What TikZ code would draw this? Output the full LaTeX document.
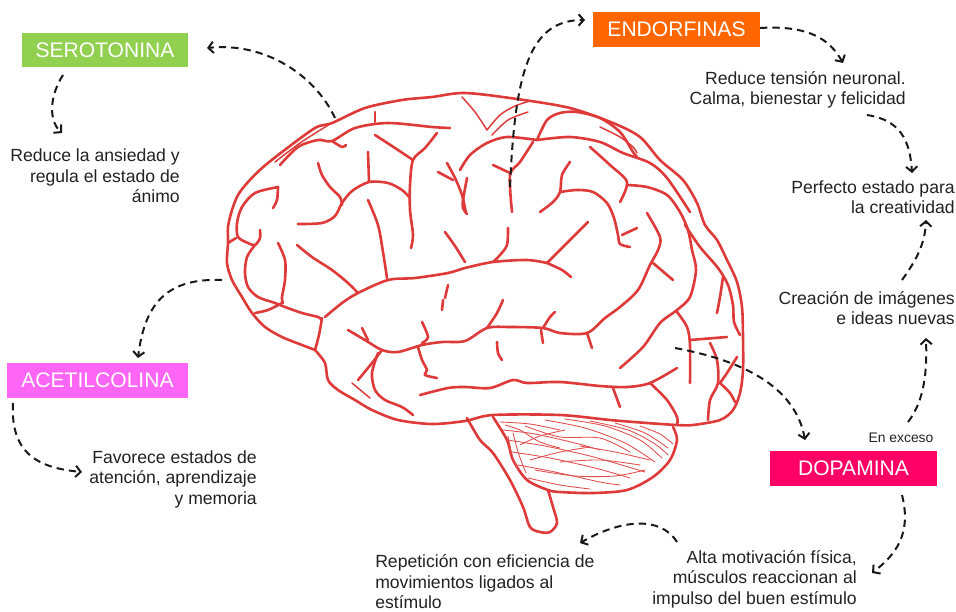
\documentclass[tikz,border=0pt]{standalone}
\usepackage{fontspec}
\setmainfont{Liberation Sans}
\usetikzlibrary{arrows.meta}
\definecolor{brainred}{HTML}{DE3A3A}
\definecolor{serogreen}{HTML}{92D050}
\definecolor{endoorange}{HTML}{FF6600}
\definecolor{acetpink}{HTML}{FF66F5}
\definecolor{dopared}{HTML}{FF0066}
\definecolor{txt}{HTML}{222222}
\begin{document}
\begin{tikzpicture}[x=0.75pt,y=-0.75pt,
  br/.style={draw=brainred,line width=1.95pt,line cap=round,line join=round},
  thin/.style={draw=brainred,line width=1.1pt,line cap=round},
  hatch/.style={draw=brainred!90,line width=0.65pt,line cap=round},
  lab/.style={fill=#1,text=white,minimum height=26pt,inner sep=0pt,font=\fontsize{15.8}{18}\selectfont},
  desc/.style={text=txt,inner sep=0pt,font=\fontsize{13.2}{15.4}\selectfont},
  arr/.style={draw=black!90,line width=1.5pt,dash pattern=on 5.5pt off 3.8pt,
    -{Straight Barb[length=3.8pt,width=8.5pt,line width=1.5pt]}},
]
\useasboundingbox (0,0) rectangle (956,611);

% ---------- brain: cerebrum outline ----------
\draw[br] plot[smooth] coordinates {(315,350) (302,345) (282,337) (265,327) (252,313) (242,297) (232,280) (227,263) (228,243) (228,227) (232,210) (238,195) (248,182) (262,168) (282,152) (315,128) (332,123) (365,108) (402,100) (432,97) (465,93) (517,99) (570,108) (613,123) (640,137) (660,160) (683,180) (697,203) (705,225) (717,240) (727,260) (737,282) (742,307) (743,337) (743,370) (740,393) (733,410) (720,420) (693,425) (677,425) (647,423) (610,420) (560,415) (493,415) (465,421) (432,424) (398,420) (372,410) (355,400) (338,390) (328,380) (325,363) (315,350)};

% frontal lobe folds
\draw[thin] plot[smooth] coordinates {(275,162) (300,143) (330,124)};
\draw[br] plot[smooth] coordinates {(278,187) (255,193) (242,207) (237,223) (238,237) (248,243) (255,245) (260,238) (260,230)};
\draw[br] plot[smooth] coordinates {(228,243) (236,238)};
\draw[br] plot[smooth] coordinates {(278,187) (277,200) (273,208)};
\draw[br] plot[smooth] coordinates {(255,245) (247,257) (245,273) (248,287) (258,297) (275,303) (285,307) (302,313) (318,317) (322,320)};
\draw[br] plot[smooth] coordinates {(278,243) (285,260) (285,280) (282,297) (283,303)};
\draw[br] plot[smooth] coordinates {(255,313) (268,310) (282,303)};
\draw[br] plot[smooth] coordinates {(297,245) (312,257) (332,270) (348,283) (358,293)};
\draw[br] plot[smooth] coordinates {(322,318) (319,335) (315,350)};
\draw[br] plot[smooth] coordinates {(298,224) (322,223) (335,216) (342,203) (352,191) (369,182) (388,183) (402,190) (410,198)};
\draw[br] plot[smooth] coordinates {(318,163) (322,175) (330,187) (340,197) (342,205)};
\draw[br] plot[smooth] coordinates {(368,152) (369,181)};
\draw[br] plot[smooth] coordinates {(368,200) (378,225) (383,252) (387,278)};
\draw[br] plot[smooth] coordinates {(375,135) (395,148) (413,160)};
\draw[br] plot[smooth] coordinates {(437,133) (425,148) (413,160) (410,185) (410,210) (413,235) (411,248)};
\draw[br] plot[smooth] coordinates {(280,165) (298,147) (318,140) (332,141) (355,128) (388,123) (432,127) (450,128)};
\draw[br] plot[smooth] coordinates {(332,141) (342,147) (346,145)};
\draw[br] plot[smooth] coordinates {(375,112) (375,122)};

% central region
\draw[br] plot[smooth] coordinates {(447,163) (455,178) (462,195) (466,213)};
\draw[br] plot[smooth] coordinates {(438,172) (453,180)};
\draw[br] plot[smooth] coordinates {(445,232) (455,246) (465,262)};
\draw[br] plot[smooth] coordinates {(467,178) (463,200) (463,208) (467,214)};
\draw[br] plot[smooth] coordinates {(460,170) (470,155) (487,143) (507,137) (537,140)};
\draw[thin] plot[smooth] coordinates {(462,97) (475,112) (487,130)};
\draw[thin] plot[smooth] coordinates {(487,130) (500,115) (515,106) (530,101)};
\draw[thin] plot[smooth] coordinates {(492,135) (508,120) (528,112)};
\draw[br] plot[smooth] coordinates {(533,142) (520,162) (510,175) (512,212)};
\draw[br] plot[smooth] coordinates {(493,165) (510,173)};
\draw[br] plot[smooth] coordinates {(493,262) (500,255) (507,245) (508,228)};

% lateral (sylvian) fissure
\draw[br] plot[smooth] coordinates {(325,317) (342,303) (358,293) (388,280) (415,278) (448,273) (465,268) (493,262) (527,260) (547,263)};
\draw[br] plot[smooth] coordinates {(547,263) (562,270) (571,277)};
\draw[br] plot[smooth] coordinates {(547,263) (565,245) (588,222)};
\draw[br] plot[smooth] coordinates {(448,285) (445,298)};

% parietal / occipital folds
\draw[br] plot[smooth] coordinates {(537,140) (547,120) (560,113) (577,112) (600,118) (620,132) (633,152) (637,157)};
\draw[br] plot[smooth] coordinates {(537,140) (570,137) (600,142) (623,153) (650,163) (667,178) (690,212)};
\draw[thin] plot[smooth] coordinates {(600,127) (620,137) (633,147) (637,153)};
\draw[br] plot[smooth] coordinates {(590,147) (610,165) (627,182) (620,202)};
\draw[br] plot[smooth] coordinates {(627,185) (647,187) (667,195) (680,212) (688,230) (692,250) (696,270) (690,297) (677,310) (660,323) (643,347) (620,368)};
\draw[br] plot[smooth] coordinates {(685,225) (700,247) (718,268) (728,285) (733,305) (734,322) (740,335)};
\draw[br] plot[smooth] coordinates {(723,277) (720,297) (717,313)};
\draw[br] plot[smooth] coordinates {(560,192) (577,190) (593,192) (607,203) (614,218) (618,235) (620,244) (630,247)};
\draw[br] plot[smooth] coordinates {(622,235) (637,228)};
\draw[br] plot[smooth] coordinates {(570,162) (562,175) (560,192) (553,202) (540,212)};
\draw[br] plot[smooth] coordinates {(647,213) (660,237) (658,250) (650,265) (638,290) (620,307) (605,318) (587,333) (560,333) (543,328) (510,327) (487,328) (465,341) (442,342) (422,345) (398,352) (382,350) (365,340) (348,330)};
\draw[br] plot[smooth] coordinates {(653,263) (673,280)};

% temporal lobe folds
\draw[br] plot[smooth] coordinates {(362,328) (368,340)};
\draw[br] plot[smooth] coordinates {(422,322) (428,337) (422,343)};
\draw[br] plot[smooth] coordinates {(443,300) (442,310)};
\draw[br] plot[smooth] coordinates {(382,350) (372,363) (358,380)};
\draw[br] plot[smooth] coordinates {(378,353) (372,373) (375,390) (385,400) (402,407) (413,415)};
\draw[br] plot[smooth] coordinates {(418,347) (422,360) (427,370) (425,375) (437,378)};
\draw[thin] plot[smooth] coordinates {(352,383) (370,398)};
\draw[br] plot[smooth] coordinates {(420,395) (448,388) (465,387) (490,388) (513,380) (527,383) (560,382) (600,386) (627,387) (650,383) (677,368)};
\draw[br] plot[smooth] coordinates {(487,328) (497,313) (503,300)};
\draw[br] plot[smooth] coordinates {(543,328) (550,317) (555,312)};
\draw[br] plot[smooth] coordinates {(541,330) (543,343)};
\draw[br] plot[smooth] coordinates {(587,333) (592,348)};
\draw[br] plot[smooth] coordinates {(497,342) (498,353) (502,360)};
\draw[br] plot[smooth] coordinates {(613,388) (620,407)};
\draw[br] plot[smooth] coordinates {(650,383) (667,400) (677,417) (677,425)};
\draw[br] plot[smooth] coordinates {(677,312) (687,327) (690,345) (690,383)};
\draw[br] plot[smooth] coordinates {(690,340) (727,337)};
\draw[br] plot[smooth] coordinates {(710,343) (717,360) (718,383) (710,400) (708,420)};
\draw[br] plot[smooth] coordinates {(737,357) (727,373) (720,383)};
\draw[br] plot[smooth] coordinates {(720,383) (730,393) (735,402)};

% brainstem
\draw[br] plot[smooth] coordinates {(467,418) (480,440) (493,453) (510,480) (523,507) (530,527) (540,532) (550,532) (557,523) (553,507) (548,490)};

% cerebellum outline
\draw[br] plot[smooth] coordinates {(493,417) (507,440) (513,460) (527,480) (548,490) (560,492) (593,493) (627,490) (653,477) (670,460) (677,440) (673,427)};

% cerebellum folia
\draw[hatch] plot[smooth] coordinates {(500,422) (530,424) (560,430)};
\draw[hatch] plot[smooth] coordinates {(503,430) (535,434) (575,443) (600,450)};
\draw[hatch] plot[smooth] coordinates {(507,440) (545,446) (590,456) (625,466) (645,472)};
\draw[hatch] plot[smooth] coordinates {(512,452) (550,458) (595,468) (630,478)};
\draw[hatch] plot[smooth] coordinates {(518,465) (555,472) (600,482) (620,485)};
\draw[hatch] plot[smooth] coordinates {(528,478) (560,485) (590,489)};
\draw[hatch] plot[smooth] coordinates {(545,420) (585,428) (625,443) (655,462)};
\draw[hatch] plot[smooth] coordinates {(565,419) (605,426) (640,440) (662,458)};
\draw[hatch] plot[smooth] coordinates {(590,421) (628,430) (655,444) (668,455)};
\draw[hatch] plot[smooth] coordinates {(615,423) (645,433) (668,448)};
\draw[hatch] plot[smooth] coordinates {(640,426) (660,434) (673,444)};
\draw[hatch] plot[smooth] coordinates {(520,445) (540,436) (565,430)};
\draw[hatch] plot[smooth] coordinates {(530,460) (560,452) (590,447)};
\draw[hatch] plot[smooth] coordinates {(508,436) (512,455) (518,470)};
\draw[hatch] plot[smooth] coordinates {(513,433) (519,455) (526,473)};
\draw[hatch] plot[smooth] coordinates {(560,462) (600,460) (640,465)};
\draw[hatch] plot[smooth] coordinates {(525,426) (560,437) (600,438) (630,452)};
\draw[hatch] plot[smooth] coordinates {(535,470) (575,476) (615,476) (645,470)};
\draw[hatch] plot[smooth] coordinates {(580,446) (615,452) (650,460)};
\draw[hatch] plot[smooth] coordinates {(505,425) (520,430) (540,442) (560,448)};

% ---------- labels ----------
\node[lab=serogreen,minimum width=124.5pt] (sero) at (105,50) {SEROTONINA};
\node[lab=endoorange,minimum width=125pt] (endo) at (676.5,29.5) {ENDORFINAS};
\node[lab=acetpink,minimum width=136pt] (acet) at (97.5,380.5) {ACETILCOLINA};
\node[lab=dopared,minimum width=125pt] (dopa) at (853.5,468.5) {DOPAMINA};

\node[desc,anchor=east,align=right] (serText) at (180,176) {Reduce la ansiedad y\\regula el estado de\\ánimo};
\node[desc,anchor=east,align=right] (endText) at (906,90) {Reduce tensión neuronal.\\Calma, bienestar y felicidad};
\node[desc,anchor=east,align=right] (perf) at (955,197) {Perfecto estado para\\la creatividad};
\node[desc,anchor=east,align=right] (crea) at (955,308) {Creación de imágenes\\e ideas nuevas};
\node[desc,anchor=east,align=right] (fav) at (257,479) {Favorece estados de\\atención, aprendizaje\\y memoria};
\node[desc,anchor=west,align=left] (rep) at (375,582) {Repetición con eficiencia de\\movimientos ligados al\\estímulo};
\node[desc,anchor=east,align=right] (alta) at (857,579) {Alta motivación física,\\músculos reaccionan al\\impulso del buen estímulo};
\node[text=txt,inner sep=0pt,font=\fontsize{10.4}{12}\selectfont] (exceso) at (901,438) {En exceso};

% ---------- connector ends ----------
\coordinate (brainSero) at (335,118);
\coordinate (seroIn) at (207,48);
\coordinate (seroOut) at (63,75);
\coordinate (serTextIn) at (62,133);
\coordinate (brainEndo) at (510,187);
\coordinate (endoIn) at (585,20);
\coordinate (endoOut) at (760,28);
\coordinate (endTextIn) at (843,63);
\coordinate (endTextOut) at (867,115);
\coordinate (perfIn) at (912,173);
\coordinate (creaOut) at (902,280);
\coordinate (perfIn2) at (926,220);
\coordinate (dopaUp) at (908,422);
\coordinate (creaIn) at (926,338);
\coordinate (brainDopa) at (675,348);
\coordinate (dopaIn) at (805,440);
\coordinate (dopaOut) at (902,495);
\coordinate (altaIn) at (872,573);
\coordinate (altaOut) at (677,542);
\coordinate (repIn) at (580,543);
\coordinate (brainAcet) at (222,280);
\coordinate (acetIn) at (138,358);
\coordinate (acetOut) at (13,403);
\coordinate (favIn) at (82,472);

% ---------- connectors ----------
\draw[arr] (brainSero) .. controls (315,75) and (265,42) .. (seroIn);
\draw[arr] (seroOut) .. controls (50,95) and (48,120) .. (serTextIn);
\draw[arr] (brainEndo) .. controls (515,70) and (530,20) .. (endoIn);
\draw[arr] (endoOut) .. controls (810,25) and (830,40) .. (endTextIn);
\draw[arr] (endTextOut) .. controls (900,120) and (910,140) .. (perfIn);
\draw[arr] (creaOut) .. controls (915,262) and (925,245) .. (perfIn2);
\draw[arr] (dopaUp) .. controls (925,400) and (927,370) .. (creaIn);
\draw[arr] (brainDopa) .. controls (740,360) and (795,385) .. (dopaIn);
\draw[arr] (dopaOut) .. controls (912,535) and (895,555) .. (altaIn);
\draw[arr] (altaOut) .. controls (660,515) and (620,520) .. (repIn);
\draw[arr] (brainAcet) .. controls (170,278) and (145,300) .. (acetIn);
\draw[arr] (acetOut) .. controls (10,455) and (40,468) .. (favIn);
\end{tikzpicture}
\end{document}
